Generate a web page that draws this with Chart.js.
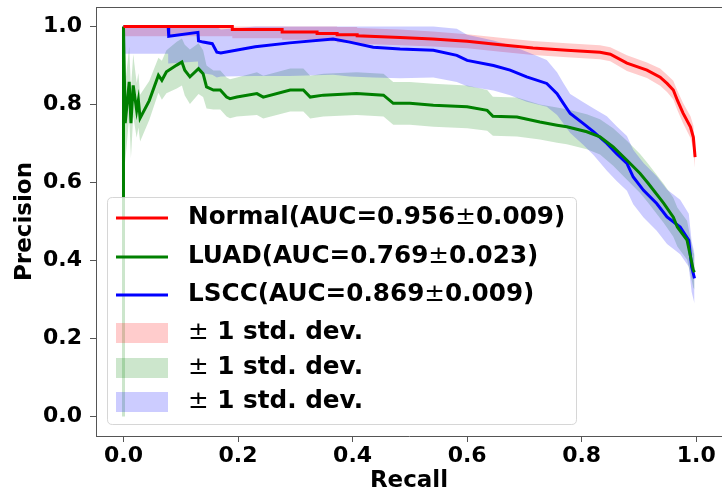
<!DOCTYPE html>
<html>
<head>
<meta charset="utf-8">
<script src="https://cdn.jsdelivr.net/npm/chart.js@4/dist/chart.umd.min.js"></script>
<style>
  html, body { margin: 0; padding: 0; background: #fff; overflow: hidden; }
  canvas { display: block; }
</style>
</head>
<body>
<canvas id="prChart" width="722" height="495"></canvas>
<script>
'use strict';

// tick values
var xTicks = [0.0, 0.2, 0.4, 0.6, 0.8, 1.0];
var yTicks = [0.0, 0.2, 0.4, 0.6, 0.8, 1.0];

// legend text
var classNames = ['Normal', 'LUAD', 'LSCC'];
var aucMeans = [0.956, 0.769, 0.869];
var aucStds = [0.009, 0.023, 0.009];

// Normal (mean PR curve and std)
var normalRecall = [0, 0.19, 0.19, 0.277, 0.277, 0.338, 0.338, 0.373, 0.373, 0.408, 0.408, 0.483, 0.54, 0.6, 0.658, 0.715, 0.774, 0.832, 0.85, 0.879, 0.914, 0.937, 0.949, 0.96, 0.967, 0.977, 0.99, 0.995, 0.998];
var normalPrecision = [1.0, 1.0, 0.992, 0.992, 0.986, 0.986, 0.982, 0.982, 0.979, 0.979, 0.976, 0.972, 0.968, 0.962, 0.953, 0.945, 0.939, 0.934, 0.929, 0.906, 0.888, 0.87, 0.854, 0.837, 0.811, 0.778, 0.742, 0.716, 0.665];
var normalStd = [0.025, 0.025, 0.022, 0.022, 0.02, 0.02, 0.02, 0.02, 0.02, 0.02, 0.02, 0.02, 0.019, 0.018, 0.018, 0.018, 0.018, 0.018, 0.018, 0.02, 0.02, 0.022, 0.022, 0.024, 0.025, 0.026, 0.028, 0.03, 0.03];

// LUAD
var luadRecall = [0, 0, 0.003, 0.01, 0.013, 0.017, 0.023, 0.026, 0.029, 0.045, 0.061, 0.067, 0.075, 0.093, 0.102, 0.107, 0.116, 0.131, 0.139, 0.145, 0.157, 0.169, 0.18, 0.186, 0.198, 0.233, 0.244, 0.291, 0.314, 0.326, 0.349, 0.407, 0.454, 0.471, 0.5, 0.541, 0.6, 0.635, 0.645, 0.687, 0.727, 0.757, 0.774, 0.809, 0.832, 0.855, 0.879, 0.902, 0.916, 0.943, 0.96, 0.967, 0.984, 0.995, 0.997];
var luadPrecision = [0.0, 1.0, 0.752, 0.858, 0.752, 0.849, 0.785, 0.811, 0.765, 0.81, 0.875, 0.862, 0.884, 0.901, 0.909, 0.888, 0.871, 0.892, 0.879, 0.845, 0.837, 0.837, 0.819, 0.815, 0.819, 0.828, 0.819, 0.837, 0.837, 0.819, 0.824, 0.828, 0.824, 0.803, 0.803, 0.798, 0.794, 0.785, 0.77, 0.768, 0.755, 0.747, 0.743, 0.73, 0.717, 0.691, 0.657, 0.623, 0.598, 0.547, 0.511, 0.486, 0.452, 0.375, 0.37];
var luadStd = [0, 0, 0.1, 0.09, 0.09, 0.08, 0.07, 0.07, 0.06, 0.05, 0.045, 0.05, 0.055, 0.06, 0.06, 0.065, 0.07, 0.065, 0.06, 0.055, 0.05, 0.05, 0.05, 0.05, 0.05, 0.055, 0.055, 0.055, 0.055, 0.055, 0.055, 0.055, 0.055, 0.055, 0.055, 0.055, 0.055, 0.052, 0.05, 0.05, 0.045, 0.045, 0.045, 0.045, 0.045, 0.048, 0.05, 0.05, 0.05, 0.05, 0.05, 0.05, 0.05, 0.045, 0.045];

// LSCC
var lsccRecall = [0, 0.078, 0.079, 0.13, 0.131, 0.139, 0.155, 0.163, 0.17, 0.23, 0.29, 0.366, 0.395, 0.436, 0.483, 0.541, 0.582, 0.6, 0.646, 0.675, 0.704, 0.739, 0.757, 0.768, 0.78, 0.803, 0.821, 0.844, 0.861, 0.879, 0.89, 0.908, 0.931, 0.949, 0.972, 0.987, 0.992, 0.997];
var lsccPrecision = [1.0, 1.0, 0.975, 0.985, 0.963, 0.96, 0.956, 0.934, 0.932, 0.948, 0.958, 0.968, 0.96, 0.947, 0.942, 0.939, 0.926, 0.913, 0.9, 0.888, 0.871, 0.854, 0.828, 0.803, 0.777, 0.751, 0.73, 0.7, 0.674, 0.649, 0.614, 0.58, 0.546, 0.512, 0.486, 0.452, 0.384, 0.354];
var lsccStd = [0.07, 0.07, 0.07, 0.075, 0.08, 0.08, 0.08, 0.065, 0.06, 0.075, 0.085, 0.092, 0.088, 0.078, 0.075, 0.07, 0.068, 0.066, 0.064, 0.064, 0.064, 0.06, 0.055, 0.052, 0.05, 0.055, 0.06, 0.07, 0.07, 0.07, 0.07, 0.07, 0.07, 0.07, 0.07, 0.068, 0.065, 0.065];

var lineColors = ['rgb(255,0,0)', 'rgb(0,128,0)', 'rgb(0,0,255)'];
var bandColors = ['rgba(255,0,0,0.2)', 'rgba(0,128,0,0.2)', 'rgba(0,0,255,0.2)'];

var FONT = "'DejaVu Sans', sans-serif";

function toPoints(rec, prec) {
    return rec.map(function(r, i) { return {x: r, y: prec[i]}; });
}
function bandPoints(rec, prec, std, sign) {
    return rec.map(function(r, i) {
        var v = prec[i] + sign * std[i];
        return {x: r, y: Math.max(0, Math.min(1, v))};
    });
}

var curves = [
    [normalRecall, normalPrecision, normalStd],
    [luadRecall, luadPrecision, luadStd],
    [lsccRecall, lsccPrecision, lsccStd]
];

var datasets = [];
curves.forEach(function(c, k) {
    datasets.push({
        data: toPoints(c[0], c[1]),
        borderColor: lineColors[k],
        borderWidth: 3,
        pointRadius: 0,
        fill: false,
        tension: 0,
        order: 0
    });
});
curves.forEach(function(c, k) {
    datasets.push({
        data: bandPoints(c[0], c[1], c[2], 1),
        borderWidth: 0,
        borderColor: 'rgba(0,0,0,0)',
        backgroundColor: bandColors[k],
        pointRadius: 0,
        fill: '+1',
        order: 3 - k
    });
    datasets.push({
        data: bandPoints(c[0], c[1], c[2], -1),
        borderWidth: 0,
        borderColor: 'rgba(0,0,0,0)',
        pointRadius: 0,
        fill: false,
        order: 3 - k
    });
});

// top spine + matplotlib-like legend in the lower left
var framePlugin = {
    id: 'frame',
    afterDraw: function(chart) {
        var ctx = chart.ctx;
        var a = chart.chartArea;
        ctx.save();
        ctx.strokeStyle = '#555';
        ctx.lineWidth = 1;
        ctx.beginPath();
        ctx.moveTo(a.left, a.top + 0.5);
        ctx.lineTo(a.right, a.top + 0.5);
        ctx.stroke();

        // legend box
        var bx = 107.5, by = 197.5, bw = 469, bh = 227, r = 5;
        ctx.beginPath();
        ctx.moveTo(bx + r, by);
        ctx.lineTo(bx + bw - r, by);
        ctx.quadraticCurveTo(bx + bw, by, bx + bw, by + r);
        ctx.lineTo(bx + bw, by + bh - r);
        ctx.quadraticCurveTo(bx + bw, by + bh, bx + bw - r, by + bh);
        ctx.lineTo(bx + r, by + bh);
        ctx.quadraticCurveTo(bx, by + bh, bx, by + bh - r);
        ctx.lineTo(bx, by + r);
        ctx.quadraticCurveTo(bx, by, bx + r, by);
        ctx.closePath();
        ctx.fillStyle = 'rgba(255,255,255,0.8)';
        ctx.fill();
        ctx.strokeStyle = 'rgba(204,204,204,0.8)';
        ctx.stroke();

        var rows = [218, 257, 295, 333, 368, 402];
        var hx0 = 116, hx1 = 168, tx = 188;
        var fs = 24.7;
        ctx.textBaseline = 'middle';
        ctx.textAlign = 'left';
        ctx.fillStyle = '#000';
        for (var k = 0; k < 3; k++) {
            var y = rows[k];
            ctx.strokeStyle = lineColors[k];
            ctx.lineWidth = 3;
            ctx.beginPath();
            ctx.moveTo(hx0, y);
            ctx.lineTo(hx1, y);
            ctx.stroke();
            var head = classNames[k] + '(AUC=' + aucMeans[k].toFixed(3);
            var tail = aucStds[k].toFixed(3) + ')';
            ctx.font = 'bold ' + fs + 'px ' + FONT;
            ctx.fillText(head, tx, y);
            var w = ctx.measureText(head).width;
            ctx.font = fs + 'px ' + FONT;
            ctx.fillText('\u00b1', tx + w, y);
            w += ctx.measureText('\u00b1').width;
            ctx.font = 'bold ' + fs + 'px ' + FONT;
            ctx.fillText(tail, tx + w, y);
        }
        for (var j = 0; j < 3; j++) {
            var yy = rows[3 + j];
            ctx.fillStyle = bandColors[j];
            ctx.fillRect(hx0, yy - 10, hx1 - hx0, 20);
            ctx.fillStyle = '#000';
            ctx.font = fs + 'px ' + FONT;
            ctx.fillText('\u00b1', tx, yy);
            var w2 = ctx.measureText('\u00b1').width;
            ctx.font = 'bold ' + fs + 'px ' + FONT;
            ctx.fillText(' 1 std. dev.', tx + w2, yy);
        }
        ctx.restore();
    }
};

var tickFont = {family: FONT, weight: 'bold', size: 22};
var titleFont = {family: FONT, weight: 'bold', size: 23};

var ctx = document.getElementById('prChart');
var myChart = new Chart(ctx, {
    type: 'line',
    data: { datasets: datasets },
    plugins: [framePlugin],
    options: {
        responsive: false,
        animation: false,
        devicePixelRatio: 1,
        layout: { padding: { top: 7, right: 0, left: 0, bottom: 0 } },
        plugins: {
            legend: { display: false },
            tooltip: { enabled: false }
        },
        scales: {
            x: {
                type: 'linear',
                min: -0.048,
                max: 1.045,
                afterBuildTicks: function(s) { s.ticks = xTicks.map(function(v) { return {value: v}; }); },
                afterFit: function(s) { s.height = 59; s.paddingLeft = 0; s.paddingRight = 0; },
                grid: { display: true, drawOnChartArea: false, drawTicks: true, tickLength: 6, color: '#555' },
                border: { display: true, color: '#555', width: 1 },
                ticks: {
                    autoSkip: false, maxRotation: 0, padding: 1, color: '#000', font: tickFont,
                    callback: function(v) { return v.toFixed(1); }
                },
                title: { display: true, text: 'Recall', color: '#000', font: titleFont, padding: {top: 0, bottom: 0} }
            },
            y: {
                type: 'linear',
                min: -0.05,
                max: 1.05,
                afterBuildTicks: function(s) { s.ticks = yTicks.map(function(v) { return {value: v}; }); },
                afterFit: function(s) { s.width = 96; s.paddingTop = 0; s.paddingBottom = 0; },
                grid: { display: true, drawOnChartArea: false, drawTicks: true, tickLength: 6, color: '#555' },
                border: { display: true, color: '#555', width: 1 },
                ticks: {
                    autoSkip: false, padding: 8, color: '#000', font: tickFont,
                    callback: function(v) { return v.toFixed(1); }
                },
                title: { display: true, text: 'Precision', color: '#000', font: titleFont, padding: {top: 11, bottom: 0} }
            }
        }
    }
});
</script>
</body>
</html>
